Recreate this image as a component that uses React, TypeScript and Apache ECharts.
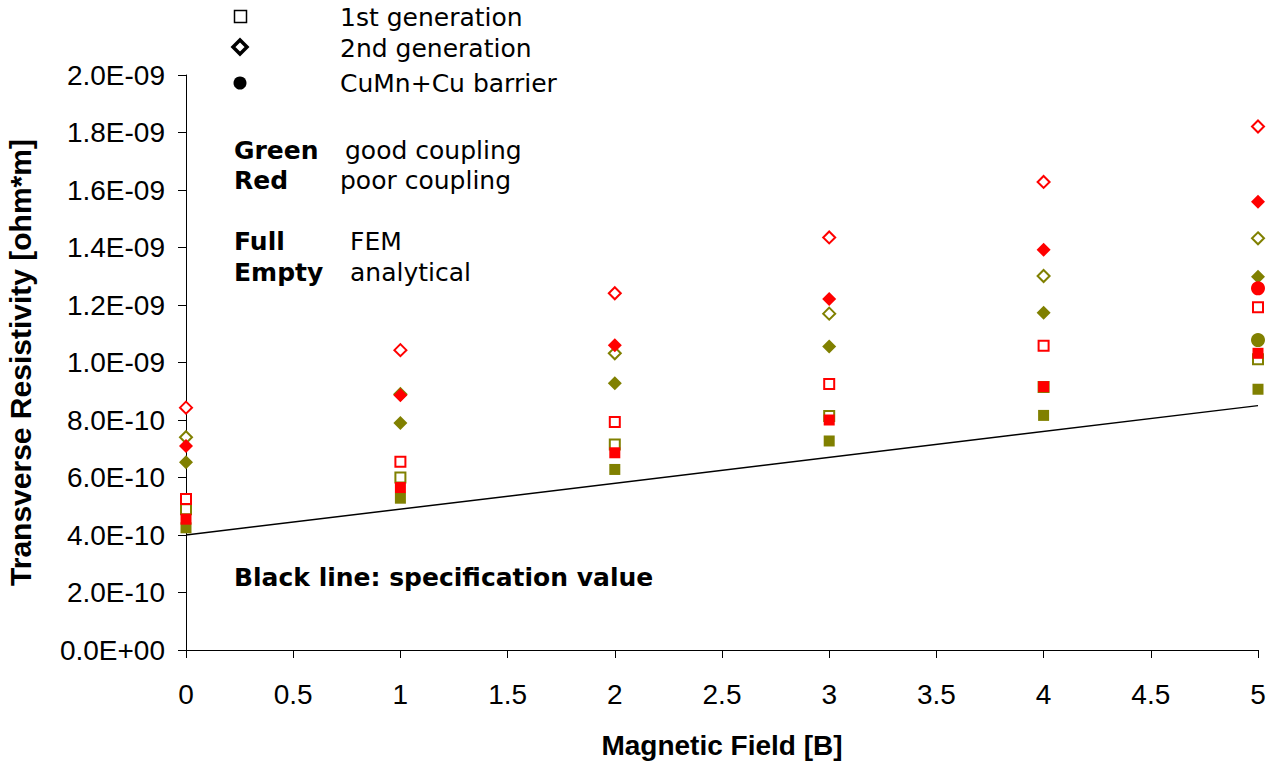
import React, { useEffect, useRef } from "react";
import * as echarts from "echarts";

const fields = [0, 1, 2, 3, 4, 5];
// values in units of 1e-9 ohm*m
const gen1AnalyticalGood = [0.49, 0.6, 0.715, 0.814, 0.915, 1.011];
const gen1FemGood = [0.425, 0.528, 0.628, 0.727, 0.816, 0.907];
const gen2AnalyticalGood = [0.74, 0.89, 1.032, 1.17, 1.301, 1.432];
const gen2FemGood = [0.653, 0.79, 0.928, 1.056, 1.173, 1.298];
const gen1AnalyticalPoor = [0.525, 0.655, 0.793, 0.925, 1.058, 1.192];
const gen1FemPoor = [0.455, 0.565, 0.686, 0.8, 0.916, 1.032];
const gen2AnalyticalPoor = [0.843, 1.043, 1.241, 1.435, 1.628, 1.821];
const gen2FemPoor = [0.71, 0.886, 1.06, 1.221, 1.392, 1.559];
const barrierField = [5];
const barrierGood = [1.078];
const barrierPoor = [1.258];
const specField = [0, 5];
const specValue = [0.4, 0.85];

const GREEN = "#808000";
const RED = "#FF0000";
const SCALE = 1e-9;

const pairs = (xs: number[], ys: number[]) => xs.map((x, i) => [x, ys[i] * SCALE]);

const fmtExp = (v: number) => {
  const [m, e] = v.toExponential(1).split("e");
  const sign = e[0] === "-" ? "-" : "+";
  const digits = e.replace(/[+-]/, "").padStart(2, "0");
  return `${m}E${sign}${digits}`;
};

export default function App() {
  const ref = useRef<HTMLDivElement>(null);
  useEffect(() => {
    if (!ref.current) return;
    const chart = echarts.init(ref.current, null, { renderer: "svg" });
    const sym = (
      name: string,
      xs: number[],
      ys: number[],
      symbol: string,
      size: number,
      color: string,
      open: boolean
    ) => ({
      name,
      type: "scatter",
      symbol,
      symbolSize: size,
      data: pairs(xs, ys),
      itemStyle: open
        ? { color: "#ffffff", borderColor: color, borderWidth: 2, opacity: 1 }
        : { color, borderWidth: 0, opacity: 1 },
      emphasis: { disabled: true },
    });
    const txt = (x: number, y: number, text: string, bold = false) => ({
      type: "text",
      x,
      y,
      style: {
        text,
        fill: "#000",
        font: `${bold ? "bold " : ""}25px "DejaVu Sans", Verdana, sans-serif`,
        textVerticalAlign: "middle",
        verticalAlign: "middle",
      },
    });
    chart.setOption({
      animation: false,
      backgroundColor: "#ffffff",
      grid: {
        left: 186,
        right: 21,
        top: 75,
        bottom: 114,
        containLabel: false,
        outerBoundsMode: "none",
      },
      xAxis: {
        type: "value",
        min: 0,
        max: 5,
        interval: 0.5,
        name: "Magnetic Field [B]",
        nameLocation: "middle",
        nameGap: 81,
        nameTextStyle: {
          fontFamily: "Liberation Sans, Arial, sans-serif",
          fontWeight: "bold",
          fontSize: 28,
          color: "#000",
        },
        axisLine: { show: true, onZero: false, lineStyle: { color: "#000", width: 1 } },
        axisTick: { show: true, inside: false, length: 8, lineStyle: { color: "#000" } },
        axisLabel: {
          margin: 30,
          fontFamily: "Liberation Sans, Arial, sans-serif",
          fontSize: 28,
          color: "#000",
        },
        splitLine: { show: false },
      },
      yAxis: {
        type: "value",
        min: 0,
        max: 2e-9,
        interval: 2e-10,
        name: "Transverse Resistivity [ohm*m]",
        nameLocation: "middle",
        nameGap: 151,
        nameTextStyle: {
          fontFamily: "Liberation Sans, Arial, sans-serif",
          fontWeight: "bold",
          fontSize: 30,
          color: "#000",
        },
        axisLine: { show: true, lineStyle: { color: "#000", width: 1 } },
        axisTick: { show: true, inside: false, length: 8, lineStyle: { color: "#000" } },
        axisLabel: {
          margin: 21,
          formatter: (v: number) => fmtExp(v),
          fontFamily: "Liberation Sans, Arial, sans-serif",
          fontSize: 28,
          color: "#000",
        },
        splitLine: { show: false },
      },
      series: [
        {
          name: "Specification",
          type: "line",
          data: pairs(specField, specValue),
          symbol: "none",
          lineStyle: { color: "#000", width: 1.5 },
          z: 1,
          emphasis: { disabled: true },
        },
        sym("1st gen analytical good", fields, gen1AnalyticalGood, "rect", 10, GREEN, true),
        sym("1st gen FEM good", fields, gen1FemGood, "rect", 11, GREEN, false),
        sym("2nd gen analytical good", fields, gen2AnalyticalGood, "diamond", 12, GREEN, true),
        sym("2nd gen FEM good", fields, gen2FemGood, "diamond", 14, GREEN, false),
        sym("1st gen analytical poor", fields, gen1AnalyticalPoor, "rect", 10, RED, true),
        sym("1st gen FEM poor", fields, gen1FemPoor, "rect", 11, RED, false),
        sym("2nd gen analytical poor", fields, gen2AnalyticalPoor, "diamond", 12, RED, true),
        sym("2nd gen FEM poor", fields, gen2FemPoor, "diamond", 14, RED, false),
        sym("CuMn+Cu barrier poor", barrierField, barrierPoor, "circle", 14, RED, false),
        sym("CuMn+Cu barrier good", barrierField, barrierGood, "circle", 14, GREEN, false),
      ],
      graphic: [
        {
          type: "rect",
          shape: { x: 234.5, y: 10.5, width: 12, height: 12 },
          style: { fill: "none", stroke: "#000", lineWidth: 1.5 },
        },
        {
          type: "polygon",
          shape: { points: [[240, 40], [247, 47], [240, 54], [233, 47]] },
          style: { fill: "none", stroke: "#000", lineWidth: 3.5 },
        },
        {
          type: "circle",
          shape: { cx: 240, cy: 83, r: 6.5 },
          style: { fill: "#000" },
        },
        txt(340, 17, "1st generation"),
        txt(340, 48, "2nd generation"),
        txt(340, 83, "CuMn+Cu barrier"),
        txt(234, 150, "Green", true),
        txt(345, 150, "good coupling"),
        txt(234, 180, "Red", true),
        txt(340, 180, "poor coupling"),
        txt(234, 241, "Full", true),
        txt(350, 241, "FEM"),
        txt(234, 272, "Empty", true),
        txt(350, 272, "analytical"),
        txt(234, 577, "Black line: specification value", true),
      ],
    });
    return () => chart.dispose();
  }, []);
  return (
    <div
      ref={ref}
      style={{ position: "absolute", left: 0, top: 0, width: 1279, height: 764 }}
    />
  );
}
